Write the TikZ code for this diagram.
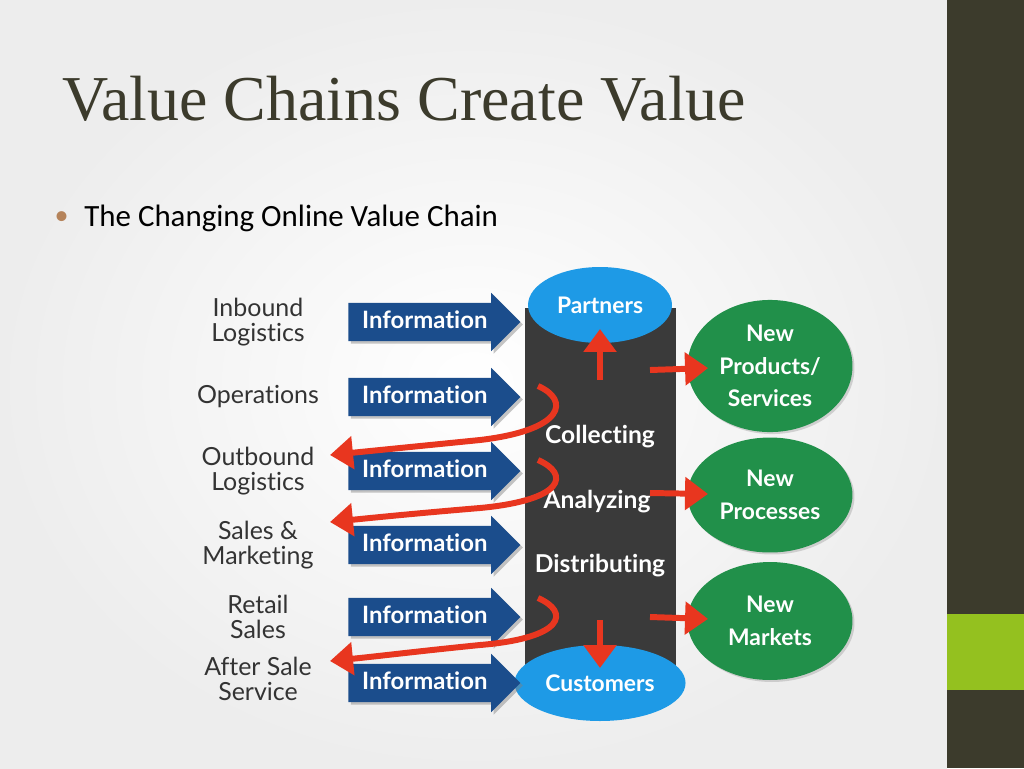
\documentclass[tikz,border=0pt]{standalone}
\usepackage{fontspec}
\setmainfont{Liberation Serif}
\newfontfamily\bodyfont{Carlito}
\newfontfamily\chainfont[Ligatures={NoCommon}]{Lato}
\usetikzlibrary{shapes.geometric,shapes.arrows,arrows.meta,positioning,shadows}
\definecolor{slidedark}{HTML}{3C3B2C}
\definecolor{slidegreen}{HTML}{94C11F}
\definecolor{bulletcol}{HTML}{B5835A}
\definecolor{infoblue}{HTML}{1B4D8C}
\definecolor{ovalblue}{HTML}{1E9AE6}
\definecolor{cylgray}{HTML}{3A3A3A}
\definecolor{ovalgreen}{HTML}{21904A}
\definecolor{flowred}{HTML}{E8361F}

\begin{document}
\begin{tikzpicture}[x=0.02cm, y=-0.02cm,
  stage/.style={font=\chainfont\fontsize{14.2}{14.4}\selectfont, text=black!80, align=center},
  info/.style={single arrow, single arrow head extend=0.2cm, fill=infoblue,
     minimum height=3.44cm, inner ysep=0.2cm, inner xsep=0.1cm, text height=0.3cm, text depth=0.05cm,
     font=\chainfont\bfseries\fontsize{13.6}{14}\selectfont, text=white, anchor=west,
     drop shadow={opacity=0.45, shadow xshift=0.05cm, shadow yshift=-0.05cm}},
  oval/.style={ellipse, fill=ovalblue, text=white, font=\chainfont\bfseries\fontsize{13}{15}\selectfont},
  result/.style={ellipse, fill=ovalgreen, text=white, align=center, minimum width=3.3cm,
     font=\chainfont\bfseries\fontsize{13}{18.5}\selectfont,
     drop shadow={opacity=0.3, shadow xshift=0.04cm, shadow yshift=-0.04cm}},
  task/.style={text=white, font=\chainfont\bfseries\fontsize{14}{15}\selectfont},
  flow/.style={flowred, line width=3.4pt, -{Triangle[length=0.46cm, width=0.64cm]}}
]
\useasboundingbox (0,0) rectangle (1024,768);
% slide background
\shade[inner color=white, outer color=black!7] (0,0) rectangle (947,768);
\fill[slidedark] (947,0) rectangle (1024,768);
\fill[slidegreen] (947,614) rectangle (1024,690);

\node[anchor=base west, inner sep=0, text=slidedark, font=\fontsize{36.4}{40}\selectfont] (title) at (62,120) {Value Chains Create Value};
\node[anchor=base west, inner sep=0, font=\bodyfont\fontsize{17.6}{20}\selectfont] (sub) at (84,226) {The Changing Online Value Chain};
\node[left=0.3cm of sub.west, anchor=east, inner sep=0, text=bulletcol, font=\bodyfont\fontsize{16}{18}\selectfont] (dot) {\textbullet};

% cylinder
\fill[cylgray] (525,308) rectangle (676,690);
\node[oval, minimum width=2.88cm, minimum height=1.52cm] (partners) at (600,305) {Partners};
\node[oval, minimum width=3.02cm, minimum height=1.52cm] (customers) at (600,683) {Customers};
\node[task] (collect) at (600,437) {Collecting};
\node[task] (analyze) at (597,502) {Analyzing};
\node[task] (distrib) at (600,566) {Distributing};

% value chain stages
\node[stage] (inbound) at (258,322) {Inbound\\Logistics};
\node[stage] (ops) at (258,397) {Operations};
\node[stage] (outbound) at (258,471) {Outbound\\Logistics};
\node[stage] (sales) at (258,545) {Sales \&\\Marketing};
\node[stage] (retail) at (258,617) {Retail\\Sales};
\node[stage] (after) at (258,679) {After Sale\\Service};

\node[info] (i1) at (348,322) {Information};
\node[info] (i2) at (348,397) {Information};
\node[info] (i3) at (348,471) {Information};
\node[info] (i4) at (348,545) {Information};
\node[info] (i5) at (348,617) {Information};
\node[info] (i6) at (348,683) {Information};

% outcomes
\node[result, minimum height=2.3cm] (prod) at (770,366) {New\\Products/\\Services};
\node[result, minimum height=2.3cm] (proc) at (770,495) {New\\Processes};
\node[result, minimum height=2.36cm] (mark) at (770,621) {New\\Markets};

% red flows
\coordinate (up) at (600,380);
\coordinate (down) at (600,620);
\coordinate (r1) at (650,370);
\coordinate (r2) at (650,493);
\coordinate (r3) at (650,617);
\draw[flow, shorten >=0.48cm] (up) -- (partners.center);
\draw[flow, shorten >=0.3cm] (down) -- (customers.center);
\draw[flow, shorten >=1.24cm] (r1) -- (prod.center);
\draw[flow, shorten >=1.24cm] (r2) -- (proc.center);
\draw[flow, shorten >=1.24cm] (r3) -- (mark.center);

\coordinate (c1) at (538,386);
\coordinate (c2) at (538,460);
\coordinate (c3) at (538,598);
\coordinate (t1) at (330,455);
\coordinate (t2) at (330,522);
\coordinate (t3) at (330,661);
\draw[flow] (c1) .. controls (570,400) and (565,430) .. (480,440) .. controls (420,446) and (380,450) .. (t1);
\draw[flow] (c2) .. controls (570,474) and (565,500) .. (480,508) .. controls (420,513) and (380,517) .. (t2);
\draw[flow] (c3) .. controls (570,612) and (565,638) .. (480,645) .. controls (420,651) and (380,656) .. (t3);

\end{tikzpicture}
\end{document}
